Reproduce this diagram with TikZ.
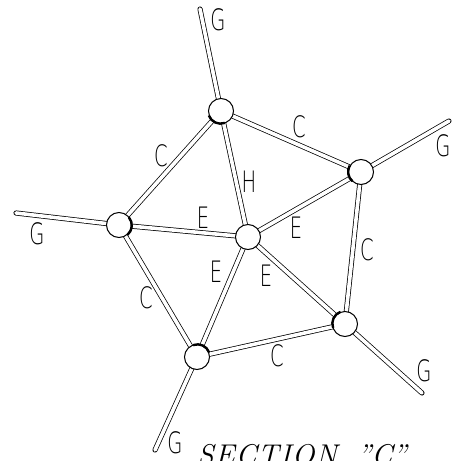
\documentclass[tikz,border=0pt]{standalone}
\usepackage{fontspec}
\usepackage{graphicx}
\usetikzlibrary{backgrounds}
\IfFontExistsTF{DejaVuSans-ExtraLight.ttf}
  {\newfontfamily\lblface{DejaVuSans-ExtraLight.ttf}\newcommand{\lblscale}{0.66}\newcommand{\lblsize}{29.5}}
  {\newfontfamily\lblface{Latin Modern Sans}\newcommand{\lblscale}{0.6}\newcommand{\lblsize}{36}}
\newcommand{\lblfont}[1]{\scalebox{\lblscale}[1]{\lblface\fontsize{\lblsize}{\lblsize}\selectfont #1}}
\tikzset{
  joint/.style={circle, draw, fill=white, line width=1pt, minimum size=25pt, inner sep=0pt},
  bar/.style={draw, double=white, double distance=3.6pt, line width=0.75pt, line cap=round},
  lbl/.style={inner sep=0pt},
  shade/.style={line width=2.4pt}
}
\begin{document}
\begin{tikzpicture}[x=1pt, y=-1pt]
\useasboundingbox (0,0) rectangle (461,461);
% joints
\node[joint] (T) at (221,111) {};
\node[joint] (R) at (361,172) {};
\node[joint] (L) at (119,225) {};
\node[joint] (M) at (248,237) {};
\node[joint] (BR) at (345,324) {};
\node[joint] (BL) at (197,357) {};
% free ends
\coordinate (gT) at (200,9);
\coordinate (gR) at (449,121);
\coordinate (gL) at (16,213);
\coordinate (gBR) at (422,393);
\coordinate (gBL) at (155,450);
\begin{scope}[on background layer]
\draw[bar] (T.center) -- (gT);
\draw[bar] (R.center) -- (gR);
\draw[bar] (L.center) -- (gL);
\draw[bar] (BR.center) -- (gBR);
\draw[bar] (BL.center) -- (gBL);
\draw[bar] (T.center) -- (R.center);
\draw[bar] (T.center) -- (L.center);
\draw[bar] (T.center) -- (M.center);
\draw[bar] (L.center) -- (M.center);
\draw[bar] (M.center) -- (R.center);
\draw[bar] (M.center) -- (BL.center);
\draw[bar] (M.center) -- (BR.center);
\draw[bar] (R.center) -- (BR.center);
\draw[bar] (L.center) -- (BL.center);
\draw[bar] (BL.center) -- (BR.center);
\end{scope}
% shading arcs on joints
\draw[shade] (T.200) arc[start angle=200, end angle=290, radius=12.5pt];
\draw[shade] (R.150) arc[start angle=150, end angle=230, radius=12.5pt];
\draw[shade] (L.-50) arc[start angle=-50, end angle=40, radius=12.5pt];
\draw[shade] (BR.110) arc[start angle=110, end angle=200, radius=12.5pt];
\draw[shade] (BL.20) arc[start angle=20, end angle=110, radius=12.5pt];
% labels
\node[lbl] (lg1) at (218,20) {\lblfont{G}};
\node[lbl] (lg2) at (443,146) {\lblfont{G}};
\node[lbl] (lg3) at (37,234) {\lblfont{G}};
\node[lbl] (lg4) at (424,371) {\lblfont{G}};
\node[lbl] (lg5) at (175,443) {\lblfont{G}};
\node[lbl] (lc1) at (299,127) {\lblfont{C}};
\node[lbl] (lc2) at (161,156) {\lblfont{C}};
\node[lbl] (lc3) at (367,250) {\lblfont{C}};
\node[lbl] (lc4) at (146,298) {\lblfont{C}};
\node[lbl] (lc5) at (277,356) {\lblfont{C}};
\node[lbl] (lh) at (249,182) {\lblfont{H}};
\node[lbl] (le1) at (203,218) {\lblfont{E}};
\node[lbl] (le2) at (296,228) {\lblfont{E}};
\node[lbl] (le3) at (216,272) {\lblfont{E}};
\node[lbl] (le4) at (266,276) {\lblfont{E}};
% title
\node[anchor=base west, inner sep=0pt] (title) at (197,465)
  {\fontsize{30}{34}\selectfont\itshape S\kern1pt E\kern1pt C\kern1pt T\kern1pt I\kern1pt O\kern1pt N\hspace{20pt}''C''};
\end{tikzpicture}
\end{document}
